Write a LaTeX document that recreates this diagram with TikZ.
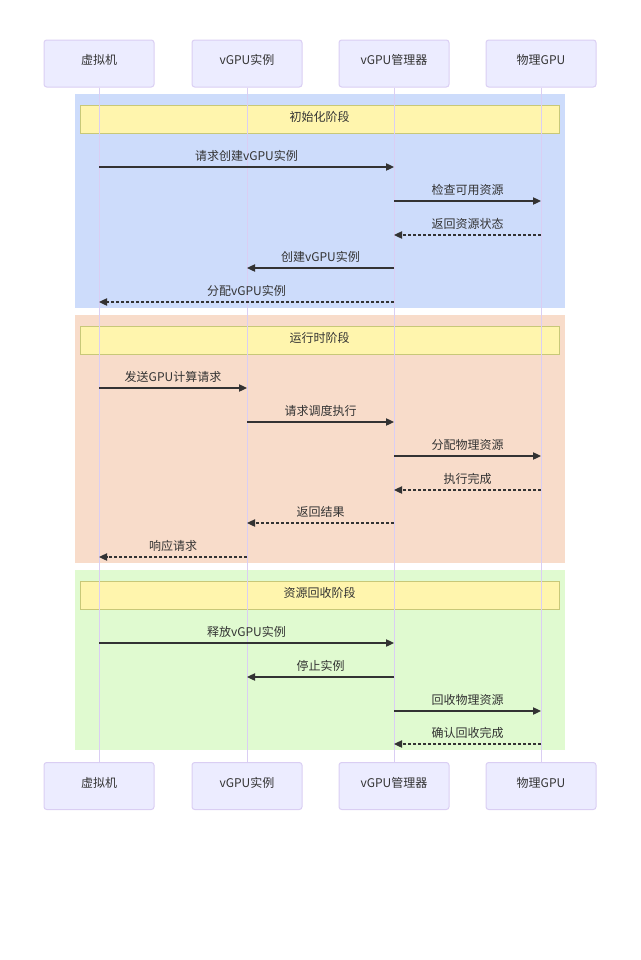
\documentclass[tikz,border=0pt]{standalone}
\usepackage{fontspec}
\setmainfont{Noto Sans CJK SC}
\usetikzlibrary{arrows.meta}
\definecolor{actorfill}{HTML}{ECECFF}
\definecolor{actorline}{HTML}{DACEF3}
\definecolor{notefill}{HTML}{FFF5AD}
\definecolor{notestroke}{HTML}{C8C878}
\definecolor{txtgray}{HTML}{333333}
\definecolor{blueband}{HTML}{CDDCFB}
\definecolor{peachband}{HTML}{F8DCCA}
\definecolor{greenband}{HTML}{E0FAD0}

\begin{document}
\begin{tikzpicture}[
    x=0.75pt, y=-0.75pt,
    font=\fontsize{9}{11}\selectfont,
    text=txtgray,
    actor/.style={
        draw=actorline,
        fill=actorfill,
        rounded corners=2pt,
        minimum width=82.5pt,
        minimum height=35.25pt,
        text height=8pt,
        text depth=6.5pt,
        line width=0.75pt
    },
    phase/.style={
        draw=notestroke,
        fill=notefill,
        minimum width=359.25pt,
        minimum height=21pt,
        text height=8pt,
        text depth=4.2pt,
        line width=0.75pt
    },
    life/.style={actorline,line width=0.75pt},
    call/.style={-{Triangle[length=6pt,width=5.5pt]},draw=txtgray,line width=0.9pt},
    reply/.style={call,dash pattern=on 2.25pt off 1.5pt},
    msglabel/.style={midway,yshift=8.5pt}
]
\useasboundingbox (0,0) rectangle (640,960);

% Phase backgrounds
\fill[blueband] (75,94) rectangle (565,308);
\fill[peachband] (75,315) rectangle (565,563);
\fill[greenband] (75,570) rectangle (565,750);

% Participants, top and bottom
\node[actor] (vm) at (99,63.5) {虚拟机};
\node[actor] (vgpu) at (247,63.5) {vGPU实例};
\node[actor] (mgr) at (394,63.5) {vGPU管理器};
\node[actor] (gpu) at (541,63.5) {物理GPU};
\node[actor] (vmb) at (99,786) {虚拟机};
\node[actor] (vgpub) at (247,786) {vGPU实例};
\node[actor] (mgrb) at (394,786) {vGPU管理器};
\node[actor] (gpub) at (541,786) {物理GPU};

% Phase notes
\node[phase] (init) at (319.5,119) {初始化阶段};
\node[phase] (run) at (319.5,340) {运行时阶段};
\node[phase] (free) at (319.5,595) {资源回收阶段};

% Lifelines
\draw[life] (vm.south) -- (vmb.north);
\draw[life] (vgpu.south) -- (vgpub.north);
\draw[life] (mgr.south) -- (mgrb.north);
\draw[life] (gpu.south) -- (gpub.north);

% Initialisation
\draw[call] (vm |- 0,167) -- node[msglabel] {请求创建vGPU实例} (mgr |- 0,167);
\draw[call] (mgr |- 0,201) -- node[msglabel] {检查可用资源} (gpu |- 0,201);
\draw[reply] (gpu |- 0,235) -- node[msglabel] {返回资源状态} (mgr |- 0,235);
\draw[call] (mgr |- 0,268) -- node[msglabel] {创建vGPU实例} (vgpu |- 0,268);
\draw[reply] (mgr |- 0,302) -- node[msglabel] {分配vGPU实例} (vm |- 0,302);

% Runtime
\draw[call] (vm |- 0,388) -- node[msglabel] {发送GPU计算请求} (vgpu |- 0,388);
\draw[call] (vgpu |- 0,422) -- node[msglabel] {请求调度执行} (mgr |- 0,422);
\draw[call] (mgr |- 0,456) -- node[msglabel] {分配物理资源} (gpu |- 0,456);
\draw[reply] (gpu |- 0,490) -- node[msglabel] {执行完成} (mgr |- 0,490);
\draw[reply] (mgr |- 0,523) -- node[msglabel] {返回结果} (vgpu |- 0,523);
\draw[reply] (vgpu |- 0,557) -- node[msglabel] {响应请求} (vm |- 0,557);

% Release
\draw[call] (vm |- 0,643) -- node[msglabel] {释放vGPU实例} (mgr |- 0,643);
\draw[call] (mgr |- 0,677) -- node[msglabel] {停止实例} (vgpu |- 0,677);
\draw[call] (mgr |- 0,711) -- node[msglabel] {回收物理资源} (gpu |- 0,711);
\draw[reply] (gpu |- 0,744) -- node[msglabel] {确认回收完成} (mgr |- 0,744);

\end{tikzpicture}
\end{document}
